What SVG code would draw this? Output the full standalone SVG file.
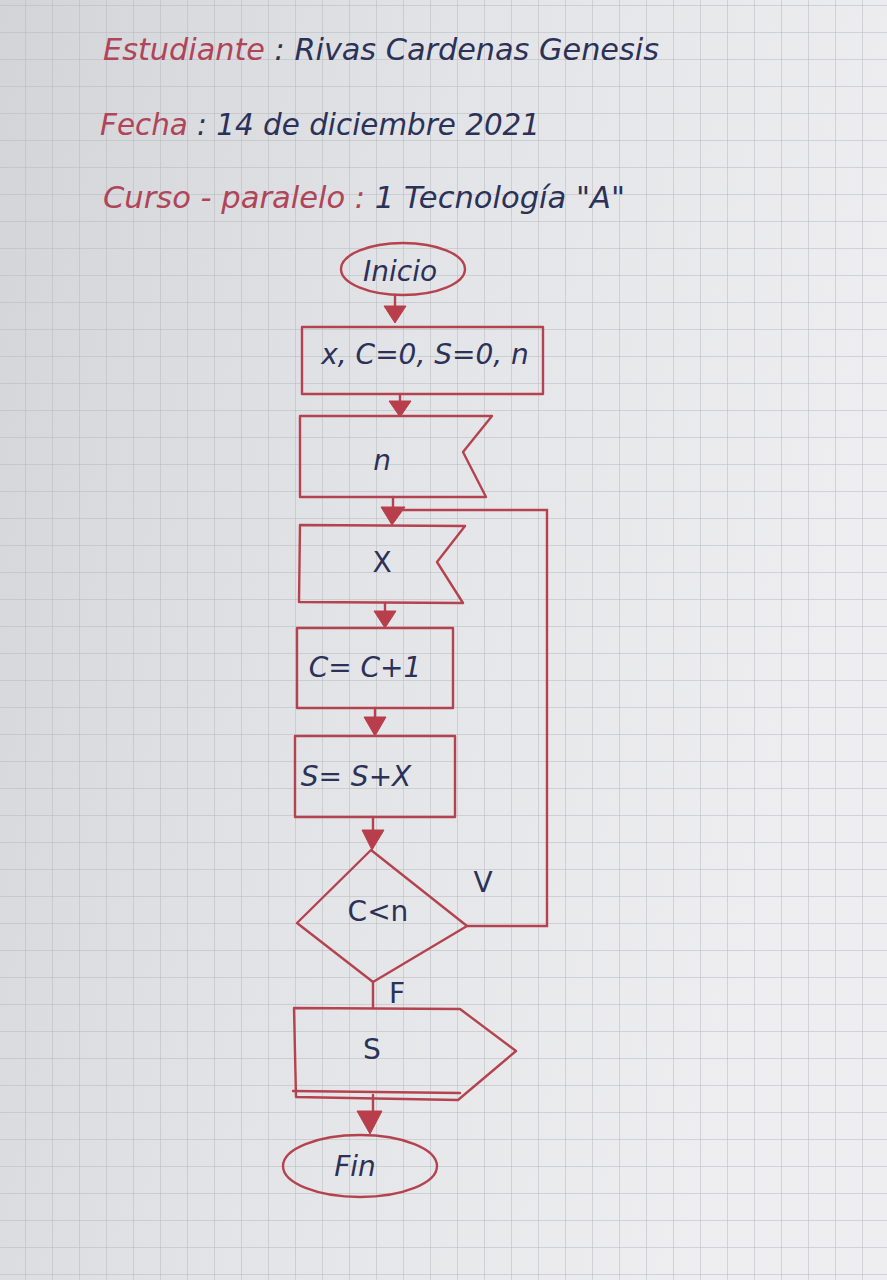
<svg xmlns="http://www.w3.org/2000/svg" width="887" height="1280" viewBox="0 0 887 1280">
<defs>
<style>
.shape{fill:none;stroke:#b5434f;stroke-width:2.4;stroke-linejoin:round;stroke-linecap:round}
.conn{fill:none;stroke:#b5434f;stroke-width:2.4;stroke-linecap:round}
.head{fill:#b83e4b;stroke:#b83e4b;stroke-width:1}
.red{fill:#b04458}
.hdr{font-family:"DejaVu Sans","Liberation Sans",sans-serif;font-style:italic;font-size:30px}
.lbl{font-family:"DejaVu Sans","Liberation Sans",sans-serif;font-size:28px;fill:#2c3158;text-anchor:middle}
</style>
<linearGradient id="paper" x1="0" y1="0" x2="1" y2="0.3">
<stop offset="0" stop-color="#d3d4d8"/>
<stop offset="0.5" stop-color="#e3e4e7"/>
<stop offset="1" stop-color="#eeeef0"/>
</linearGradient>
<pattern id="grid" x="25" y="5" width="27" height="27" patternUnits="userSpaceOnUse">
<path d="M0 0H27M0 0V27" fill="none" stroke="#b3b7be" stroke-width="1"/>
</pattern>
</defs>
<rect width="887" height="1280" fill="url(#paper)"/>
<rect width="887" height="1280" fill="url(#grid)"/>

<g id="header">
<text class="hdr" x="103" y="60" textLength="556" lengthAdjust="spacingAndGlyphs"><tspan class="red">Estudiante</tspan><tspan fill="#2c3158"> : Rivas Cardenas Genesis</tspan></text>
<text class="hdr" x="100" y="135" textLength="440" lengthAdjust="spacingAndGlyphs"><tspan class="red">Fecha</tspan><tspan fill="#2c3158"> : 14 de diciembre 2021</tspan></text>
<text class="hdr" x="103" y="208" textLength="522" lengthAdjust="spacingAndGlyphs"><tspan class="red">Curso - paralelo :</tspan><tspan fill="#2c3158"> 1 Tecnología "A"</tspan></text>
</g>

<g id="connectors">
<path class="conn" d="M395 295V310"/>
<polygon class="head" points="384,306 406,306 395,323"/>
<path class="conn" d="M400 394V402"/>
<polygon class="head" points="389,401 411,401 400,417"/>
<path class="conn" d="M393 497V508"/>
<polygon class="head" points="381,507 405,507 392,525"/>
<path class="conn" d="M385 603V612"/>
<polygon class="head" points="374,611 396,611 385,628"/>
<path class="conn" d="M375 708V718"/>
<polygon class="head" points="364,717 386,717 375,736"/>
<path class="conn" d="M373 817V831"/>
<polygon class="head" points="362,830 384,830 372,850"/>
<path class="conn" d="M467 926H547V510H395"/>
<path class="conn" d="M373 982V1008" stroke-width="4"/>
<path class="conn" d="M373 1095V1112"/>
<polygon class="head" points="357,1111 382,1111 370,1134"/>
<text class="lbl" x="483" y="892">V</text>
<text class="lbl" x="397" y="1003" font-size="24">F</text>
</g>

<g id="inicio">
<ellipse class="shape" cx="403" cy="269" rx="62" ry="26"/>
<text class="lbl" x="400" y="281" font-style="italic" font-size="26">Inicio</text>
</g>

<g id="declaracion">
<rect class="shape" x="302" y="327" width="241" height="67"/>
<text class="lbl" x="425" y="364" font-style="italic" font-size="27">x, C=0, S=0, n</text>
</g>

<g id="entrada-n">
<polygon class="shape" points="300,416 492,416 463,452 486,497 300,497"/>
<text class="lbl" x="382" y="470" font-style="italic">n</text>
</g>

<g id="entrada-x">
<polygon class="shape" points="300,525 465,526 437,562 463,603 299,602"/>
<text class="lbl" x="382" y="572">X</text>
</g>

<g id="contador">
<rect class="shape" x="297" y="628" width="156" height="80"/>
<text class="lbl" x="365" y="677" font-style="italic">C= C+1</text>
</g>

<g id="suma">
<rect class="shape" x="295" y="736" width="160" height="81"/>
<text class="lbl" x="356" y="786" font-style="italic">S= S+X</text>
</g>

<g id="decision">
<polygon class="shape" points="371,850 467,926 373,982 297,923"/>
<text class="lbl" x="378" y="921">C&lt;n</text>
</g>

<g id="salida">
<polygon class="shape" points="294,1008 460,1009 516,1051 458,1100 296,1097"/>
<path class="conn" d="M293 1091L460 1093"/>
<text class="lbl" x="372" y="1059">S</text>
</g>

<g id="fin">
<ellipse class="shape" cx="360" cy="1166" rx="77" ry="31" stroke-width="3"/>
<text class="lbl" x="355" y="1176" font-style="italic">Fin</text>
</g>
</svg>
